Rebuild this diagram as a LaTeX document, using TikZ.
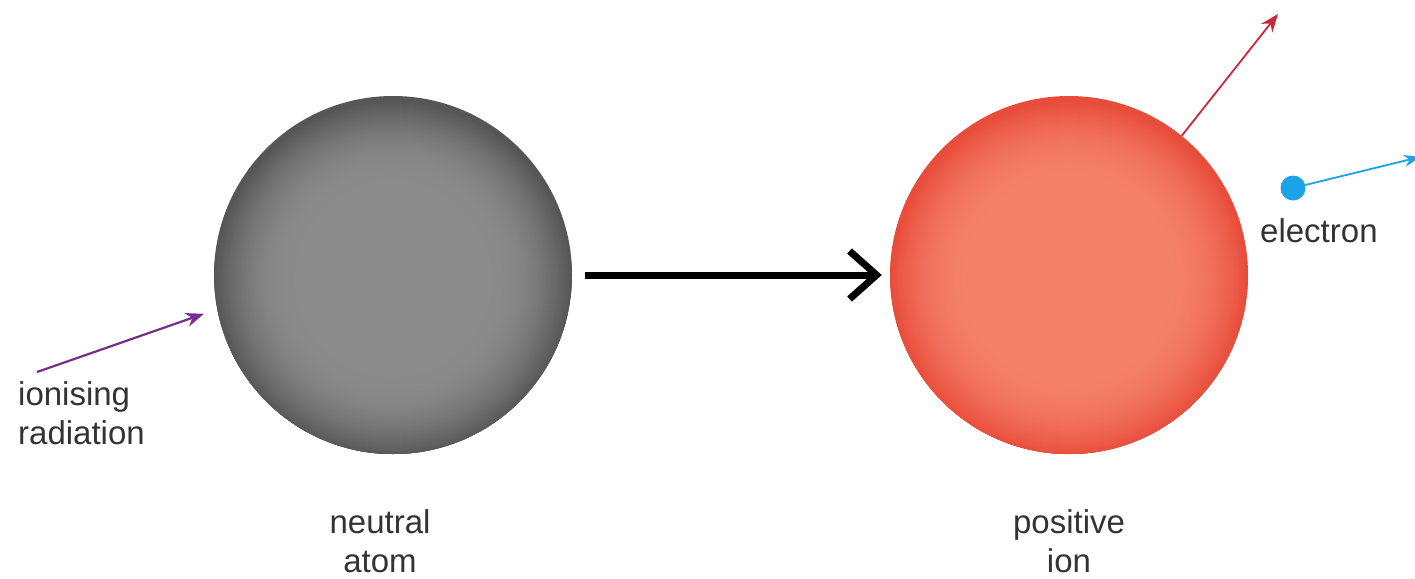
\documentclass[tikz,border=0pt]{standalone}
\usepackage{fontspec}
\setmainfont{Liberation Sans}
\usetikzlibrary{arrows.meta}

\definecolor{grayin}{HTML}{8B8B8B}
\definecolor{grayout}{HTML}{565656}
\definecolor{redin}{HTML}{F4806A}
\definecolor{redout}{HTML}{E84C3A}
\definecolor{radpurple}{HTML}{7A2C8C}
\definecolor{recoilred}{HTML}{C9283A}
\definecolor{eblue}{HTML}{1AA3E8}
\definecolor{labeltext}{HTML}{333333}

\tikzset{
  % soft sphere: flat light centre, darkening towards the rim
  sphere/.style 2 args={circle, minimum size=358pt, inner sep=0pt, fill=#2,
    path picture={
      \foreach \i in {0,...,80}{
        \pgfmathsetmacro\rad{179-\i}
        \pgfmathtruncatemacro\pct{100*(1-((\rad-99)/80)^2)}
        \fill[#1!\pct!#2] (path picture bounding box.center) ++(0,-4pt) circle (\rad pt);
      }
      \fill[#1] (path picture bounding box.center) ++(0,-4pt) circle (98pt);
    }},
  label text/.style={font=\fontsize{33}{39}\selectfont, text=labeltext, inner sep=0pt},
  thin arrow/.style={line width=2.2pt, -{Stealth[length=18pt,width=14pt]}},
}

\begin{document}
\begin{tikzpicture}[x=1pt,y=-1pt]
  \useasboundingbox (0,0) rectangle (1415,578);

  % atom and ion
  \node[sphere={grayin}{grayout}] (atom) at (393,275) {};
  \node[sphere={redin}{redout}] (ion) at (1069,275) {};

  % the electron
  \node[circle, fill=eblue, minimum size=25pt, inner sep=0pt] (electron) at (1293,188) {};

  % free ends of the thin arrows
  \coordinate (radstart) at (37,372);
  \coordinate (recoil) at (1278,14);
  \coordinate (eaway) at (1420,157);

  % process arrow
  \draw[line width=7pt, shorten <=13pt, shorten >=8pt,
        -{Straight Barb[length=27pt,width=48pt]}] (atom.east) -- (ion.west);

  % incoming radiation, outgoing ion and electron
  \draw[thin arrow, radpurple, shorten >=14pt] (radstart) -- (atom.191);
  \draw[thin arrow, recoilred, line width=1.8pt] (ion.51) -- (recoil);
  \draw[thin arrow, eblue, line width=1.8pt, -{Stealth[length=16pt,width=12pt]}] (electron) -- (eaway);

  % labels (multi-line nodes sit on the baseline of their last line)
  \node[label text, anchor=base west, align=left] (radlabel) at (18,444) {ionising\\radiation};
  \node[label text, anchor=base, align=center] (atomlabel) at (380,572) {neutral\\atom};
  \node[label text, anchor=base, align=center] (ionlabel) at (1069,572) {positive\\ion};
  \node[label text, anchor=base west] (elabel) at (1260,242) {electron};
\end{tikzpicture}
\end{document}
